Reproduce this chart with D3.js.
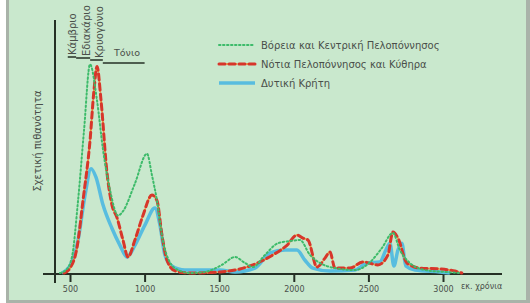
<!DOCTYPE html>
<meta charset="utf-8">
<style>
    body { margin: 0; background: #fff; }
    text { font-family: "DejaVu Sans", sans-serif; fill: #4a4f4a; }
</style>
<body>
<script src="https://d3js.org/d3.v7.min.js"></script>
<script>
    // ages in εκ. χρόνια, values = relative probability (0-100)
    var northAges = [433, 473, 513, 554, 594, 634, 681, 721, 768, 822, 855, 935, 1016, 1049, 1083, 1123, 1170, 1224, 1304, 1405, 1518, 1606, 1673, 1726, 1807, 1894, 1974, 2041, 2108, 2175, 2276, 2410, 2510, 2590, 2664, 2711, 2778, 2879, 3013, 3113];
    var northVals = [0, 1.4, 7.5, 34, 67, 98, 81, 58, 39, 27, 29, 42, 56, 46, 34, 15, 5, 1.4, 0, 0.5, 3.8, 7.5, 4.7, 2.8, 8.5, 14, 15, 15.5, 8.5, 4.7, 2.3, 1.4, 5, 11.7, 18.8, 10.8, 4.7, 1.4, 0.5, 0];

    var southAges = [460, 500, 547, 587, 634, 661, 681, 708, 748, 781, 815, 855, 889, 935, 989, 1049, 1083, 1116, 1150, 1204, 1304, 1505, 1639, 1726, 1860, 1954, 2021, 2061, 2095, 2155, 2209, 2242, 2276, 2376, 2463, 2564, 2631, 2664, 2698, 2758, 2845, 2979, 3080, 3126];
    var southVals = [0, 2.3, 12, 34, 62, 86, 97, 81, 47, 32, 26, 15.5, 7.5, 15.5, 27, 36.6, 34, 18, 6, 1, 0, 0.5, 1.9, 3.8, 8.5, 13, 17.8, 16.4, 15.5, 2.8, 7, 9.9, 2.3, 2.3, 5.2, 3.8, 8.5, 19.2, 16.4, 4.7, 2.3, 1.9, 0.9, 0];

    var creteAges = [446, 500, 554, 601, 641, 674, 721, 781, 835, 882, 935, 1002, 1069, 1103, 1136, 1183, 1270, 1505, 1606, 1740, 1840, 1941, 2021, 2075, 2128, 2242, 2410, 2490, 2577, 2617, 2644, 2671, 2698, 2724, 2751, 2812, 2979, 3046];
    var creteVals = [0, 3.3, 15.5, 36.6, 49, 45, 32, 21, 13, 7.5, 13, 22.5, 30.5, 22.5, 8.5, 3.3, 1.4, 1.4, 0.5, 2.3, 9.4, 10.8, 10.8, 6, 2.3, 0.9, 1.4, 4.7, 5.2, 10.8, 14, 3.3, 10.8, 14, 3.3, 1.4, 0.5, 0];

    var seriesNames = ["Βόρεια και Κεντρική Πελοπόννησος", "Νότια Πελοπόννησος και Κύθηρα", "Δυτική Κρήτη"];
    var xTicks = [500, 1000, 1500, 2000, 2500, 3000];

    var periodNames = ["Κάμβριο", "Εδιακάριο", "Κρυογόνιο", "Τόνιο"];
    var periodStart = [485, 541, 635, 720];
    var periodEnd = [541, 635, 720, 1000];

    var W = 530, H = 303;
    var svg = d3.select("body").append("svg")
        .attr("width", W)
        .attr("height", H);

    // panel with grey frame
    svg.append("rect").attr("x", 6).attr("y", 0).attr("width", W - 6).attr("height", H).style("fill", "#a9b3a9");
    svg.append("rect").attr("x", 9).attr("y", 0).attr("width", 517).attr("height", 300).style("fill", "#c9e8cd");

    var x = d3.scaleLinear().domain([500, 3000]).range([70, 443]);
    var y = d3.scaleLinear().domain([0, 100]).range([273, 60]);

    // axes
    svg.append("line").attr("x1", 55).attr("x2", 55).attr("y1", 20).attr("y2", 283)
        .style("stroke", "#253025").style("stroke-width", 2);
    var xAxis = d3.axisBottom(x).tickValues(xTicks).tickSize(8).tickPadding(4).tickFormat(d3.format("d"));
    var gx = svg.append("g")
        .attr("transform", "translate(0,274)")
        .call(xAxis);
    gx.select(".domain").remove();
    gx.selectAll(".tick line").style("stroke", "#253025").style("stroke-width", 2);
    gx.selectAll(".tick text").style("font-size", "8px").style("fill", "#4a4f4a");
    svg.append("line").attr("x1", 43).attr("x2", 502).attr("y1", 274).attr("y2", 274)
        .style("stroke", "#253025").style("stroke-width", 2);

    svg.append("text").attr("x", 461).attr("y", 289)
        .style("font-size", "8px").text("εκ. χρόνια");

    svg.append("text")
        .attr("transform", "translate(41,141) rotate(-90)")
        .style("text-anchor", "middle").style("font-size", "10px")
        .text("Σχετική πιθανότητα");

    // periods on top
    var lineY = [57, 58, 60, 63];
    var labelX = [76, 90, 103];
    periodNames.forEach(function(p, i) {
        svg.append("line")
            .attr("x1", x(periodStart[i])).attr("x2", x(periodEnd[i]))
            .attr("y1", lineY[i]).attr("y2", lineY[i])
            .style("stroke", "#253025").style("stroke-width", 1.5);
        if (i < 3) {
            svg.append("text")
                .attr("transform", "translate(" + labelX[i] + "," + (lineY[i] - 2) + ") rotate(-90)")
                .style("font-size", "10px")
                .text(p);
        } else {
            svg.append("text").attr("x", 114).attr("y", 56)
                .style("font-size", "9.5px").text(p);
        }
    });

    var line = d3.line()
        .x(function(d) { return x(d[0]); })
        .y(function(d) { return y(d[1]); })
        .curve(d3.curveMonotoneX);

    function pairs(a, v) { return a.map(function(d, i) { return [d, v[i]]; }); }

    var styles = [
        [{ stroke: "#3dbb6a", width: 2, dash: "1.5,2.5" }],
        [{ stroke: "#f0a640", width: 2, dash: "1.5,2.5" }, { stroke: "#d7362b", width: 3, dash: "6,4" }],
        [{ stroke: "#58bddf", width: 3.5, dash: null }]
    ];
    var data = [pairs(northAges, northVals), pairs(southAges, southVals), pairs(creteAges, creteVals)];

    // draw Crete first, then south, then north
    [2, 1, 0].forEach(function(k) {
        styles[k].forEach(function(s) {
            svg.append("path").datum(data[k])
                .attr("d", line)
                .style("fill", "none")
                .style("stroke", s.stroke)
                .style("stroke-width", s.width)
                .style("stroke-linecap", s.dash ? "round" : "butt")
                .style("stroke-linejoin", "round")
                .style("stroke-dasharray", s.dash);
        });
    });

    // legend
    var legY = [45, 64, 83];
    seriesNames.forEach(function(n, k) {
        styles[k].forEach(function(s) {
            svg.append("line").attr("x1", 219).attr("x2", 255)
                .attr("y1", legY[k]).attr("y2", legY[k])
                .style("stroke", s.stroke).style("stroke-width", s.width)
                .style("stroke-linecap", s.dash ? "round" : "butt")
                .style("stroke-dasharray", s.dash);
        });
        svg.append("text").attr("x", 261).attr("y", legY[k] + 3.5)
            .style("font-size", "10px").text(n);
    });
</script>
</body>
